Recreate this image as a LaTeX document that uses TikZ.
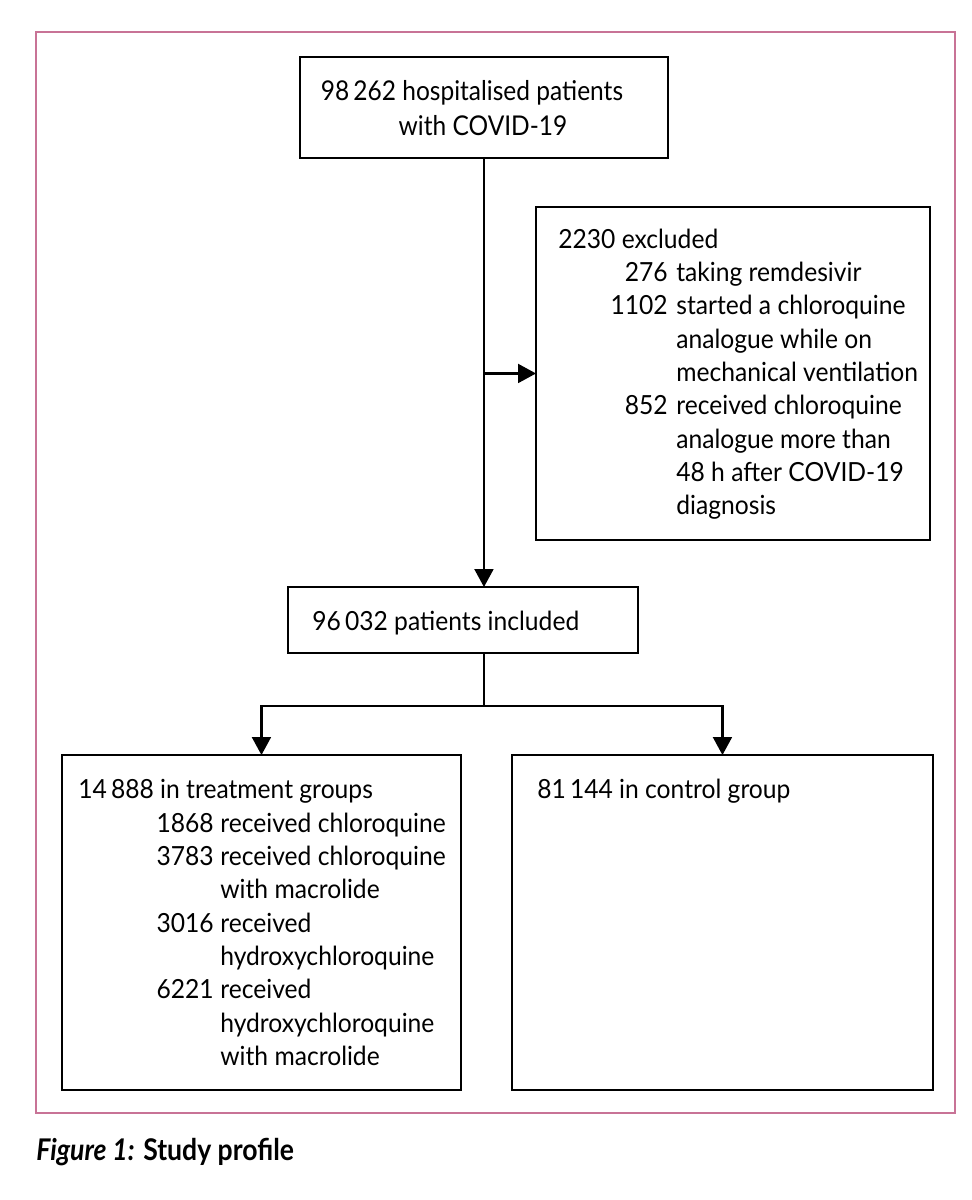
\documentclass[tikz,border=0pt]{standalone}
\usepackage{fontspec}
\setmainfont{Lato}
\usetikzlibrary{arrows.meta,calc}
\definecolor{framepink}{RGB}{200,115,150}
\begin{document}
\begin{tikzpicture}[x=0.02cm,y=-0.02cm,
  box/.style={draw=black,line width=1.2pt,inner sep=0pt,outer sep=0pt,anchor=north west},
  conn/.style={line width=1.2pt},
  arr/.style={conn,-{Triangle[length=0.36cm,width=0.38cm]}},
  txt/.style={inner sep=0pt,anchor=base west,xscale=0.935,font=\fontsize{15}{19}\selectfont},
  num/.style={inner sep=0pt,anchor=base east,xscale=0.935,font=\fontsize{15}{19}\selectfont},
  toptxt/.style={inner sep=0pt,anchor=base,xscale=0.9,font=\fontsize{15.5}{19}\selectfont}]
\useasboundingbox (0,0) rectangle (971,1200);
\draw[framepink,line width=0.8pt] (36,32) rectangle (955,1113);
% boxes
\node[box,minimum width=7.36cm,minimum height=2.02cm] (top) at (300,57) {};
\node[box,minimum width=7.88cm,minimum height=6.66cm] (excl) at (536,207) {};
\node[box,minimum width=7.0cm,minimum height=1.32cm] (incl) at (288,587) {};
\node[box,minimum width=7.98cm,minimum height=6.7cm] (left) at (62,755) {};
\node[box,minimum width=8.42cm,minimum height=6.7cm] (right) at (512,755) {};
% top text
\node[toptxt] (t1) at (472,100) {98\,262 hospitalised patients};
\node[toptxt] (t2) at (483,135) {with COVID-19};
% excluded text
\node[txt] (e0) at (558,248) {2230 excluded};
\node[num] (e1n) at (668,281) {276};
\node[txt] (e1) at (676,281) {taking remdesivir};
\node[num] (e2n) at (668,314) {1102};
\node[txt] (e2) at (676,314) {started a chloroquine};
\node[txt] (e3) at (676,348) {analogue while on};
\node[txt] (e4) at (676,381) {mechanical ventilation};
\node[num] (e5n) at (668,414) {852};
\node[txt] (e5) at (676,414) {received chloroquine};
\node[txt] (e6) at (676,448) {analogue more than};
\node[txt] (e7) at (676,481) {48 h after COVID-19};
\node[txt] (e8) at (676,514) {diagnosis};
% included
\node[txt] (i0) at (312,630) {96\,032 patients included};
% left box text
\node[txt] (l0) at (78,798) {14\,888 in treatment groups};
\node[num] (l1n) at (214,832) {1868};
\node[txt] (l1) at (220,832) {received chloroquine};
\node[num] (l2n) at (214,865) {3783};
\node[txt] (l2) at (220,865) {received chloroquine};
\node[txt] (l3) at (220,898) {with macrolide};
\node[num] (l4n) at (214,932) {3016};
\node[txt] (l4) at (220,932) {received};
\node[txt] (l5) at (220,965) {hydroxychloroquine};
\node[num] (l6n) at (214,998) {6221};
\node[txt] (l6) at (220,998) {received};
\node[txt] (l7) at (220,1032) {hydroxychloroquine};
\node[txt] (l8) at (220,1065) {with macrolide};
% right box text
\node[txt] (r0) at (537,798) {81\,144 in control group};
% caption
\node[inner sep=0pt,anchor=base west,xscale=0.89,font=\fontsize{17}{20}\selectfont\bfseries] (cap) at (36,1160) {\textit{Figure 1:} Study profile};
% connectors
\draw[arr] (top.south) -- (top.south |- incl.north);
\draw[arr] (top.south |- excl.west) -- (excl.west);
\coordinate (j) at ($(top.south |- incl.south)+(0,53)$);
\draw[conn] (top.south |- incl.south) -- (j);
\draw[arr] (j) -| (left.north);
\draw[arr] (j) -| (right.north);
\end{tikzpicture}
\end{document}
